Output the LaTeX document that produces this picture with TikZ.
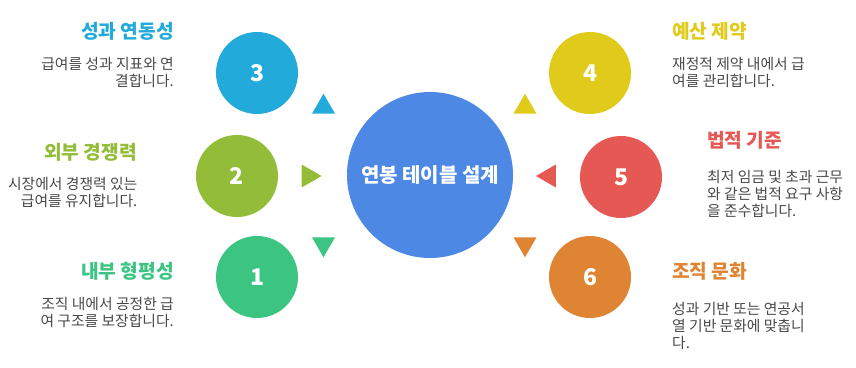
\documentclass[tikz,border=0pt]{standalone}
\usepackage{fontspec}
\setmainfont{Noto Sans CJK KR}
\usetikzlibrary{shapes.geometric}
\definecolor{hub}{RGB}{77, 136, 228}
\definecolor{tone1}{RGB}{60, 196, 131}
\definecolor{tone2}{RGB}{147, 189, 56}
\definecolor{tone3}{RGB}{33, 170, 218}
\definecolor{tone4}{RGB}{224, 203, 26}
\definecolor{tone5}{RGB}{229, 88, 83}
\definecolor{tone6}{RGB}{223, 132, 50}
\definecolor{bodytext}{RGB}{72, 72, 72}

\tikzset{
  badge/.style={circle, inner sep=0, minimum size=82pt, text=white, font=\fontsize{23}{26}\selectfont\bfseries},
  pointer/.style={regular polygon, regular polygon sides=3, inner sep=0, outer sep=0, minimum size=26.6pt},
  heading/.style={font=\fontsize{19.2}{23}\selectfont\bfseries, inner sep=0},
  blurb/.style={font=\fontsize{14.8}{17.2}\selectfont, text=bodytext, inner sep=0}
}

\begin{document}
\begin{tikzpicture}[x=1pt, y=-1pt]
  \useasboundingbox (0, 0) rectangle (856, 367);

  \node[circle, fill=hub, minimum size=166pt, inner sep=0, text=white,
        font=\fontsize{20}{24}\selectfont\bfseries] (hub) at (430, 175) {연봉 테이블 설계};

  \foreach \n/\x/\y in {1/257/277, 2/237/176, 3/257/73, 4/590/73, 5/621/177, 6/590/277} {
    \node[badge, fill=tone\n] (badge\n) at (\x, \y) {\n};
  }

  \foreach \n/\x/\y/\r in {1/323.5/244/180, 2/308.3/176/-90, 3/323.5/107/0,
                           4/525/107/0, 5/549.3/176/90, 6/525/244/180} {
    \node[pointer, fill=tone\n, shape border rotate=\r] (pointer\n) at (\x, \y) {};
  }

  \foreach \n/\x/\y/\t in {1/174/271/내부 형평성, 2/137/152/외부 경쟁력, 3/174/31/성과 연동성} {
    \node[heading, text=tone\n, anchor=east] (heading\n) at (\x, \y) {\t};
  }

  \foreach \n/\x/\y/\t in {4/672/31/예산 제약, 5/707/140/법적 기준, 6/672/271/조직 문화} {
    \node[heading, text=tone\n, anchor=west] (heading\n) at (\x, \y) {\t};
  }

  \foreach \n/\x/\y/\t in {1/174/297/{조직 내에서 공정한 급\\여 구조를 보장합니다.},
                           2/137.5/177/{시장에서 경쟁력 있는\\급여를 유지합니다.},
                           3/174/57/{급여를 성과 지표와 연\\결합니다.}} {
    \node[blurb, align=right, anchor=north east] (blurb\n) at (\x, \y) {\t};
  }

  \foreach \n/\x/\y/\t in {4/672/57/{재정적 제약 내에서 급\\여를 관리합니다.},
                           5/707/170/{최저 임금 및 초과 근무\\와 같은 법적 요구 사항\\을 준수합니다.},
                           6/672/302/{성과 기반 또는 연공서\\열 기반 문화에 맞춥니\\다.}} {
    \node[blurb, align=left, anchor=north west] (blurb\n) at (\x, \y) {\t};
  }
\end{tikzpicture}
\end{document}
